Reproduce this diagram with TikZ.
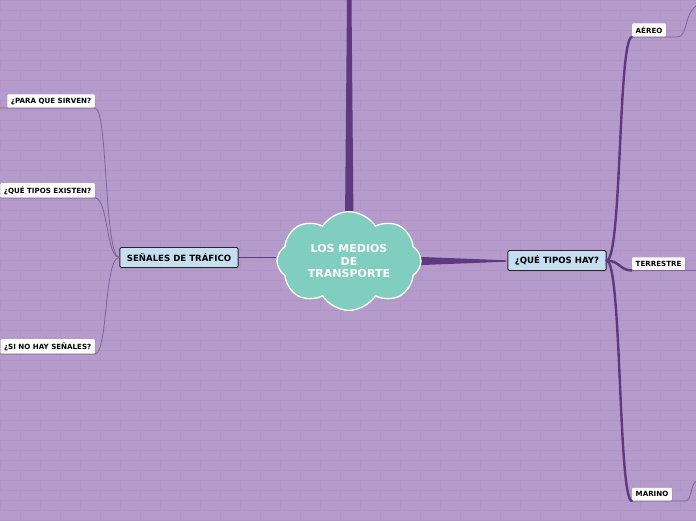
\documentclass[tikz,border=0pt]{standalone}
\usepackage{fontspec}
\setmainfont{DejaVu Sans}
\usetikzlibrary{shapes.symbols,shadows}
\definecolor{bg}{RGB}{181,155,203}
\definecolor{brick}{RGB}{175,149,198}
\definecolor{trunk}{RGB}{94,56,128}
\definecolor{thin}{RGB}{128,96,158}
\definecolor{teal}{RGB}{127,206,192}
\definecolor{topicblue}{RGB}{197,222,240}
\tikzset{
  topic/.style={draw=black!85, line width=0.9pt, fill=topicblue, rounded corners=1.5pt,
    font=\fontsize{8.6}{9}\selectfont\bfseries, inner xsep=7pt, minimum height=20pt,
    drop shadow={shadow xshift=1pt,shadow yshift=-1pt,opacity=0.35}},
  sub/.style={fill=white, rounded corners=1pt, font=\fontsize{7.1}{8}\selectfont\bfseries,
    inner xsep=3.5pt, minimum height=13pt, anchor=south west,
    drop shadow={shadow xshift=0.8pt,shadow yshift=-0.8pt,opacity=0.3}},
  branch/.style={draw=trunk, line width=2.4pt, line cap=round},
  twig/.style={draw=thin, line width=0.8pt},
  midline/.style={draw=trunk, line width=1.4pt}
}
\begin{document}
\begin{tikzpicture}[x=1pt,y=-1pt]
\useasboundingbox (0,0) rectangle (696,520);
\fill[bg] (0,0) rectangle (696,520);
% brick texture
\foreach \r in {0,...,52}{
  \draw[brick,line width=0.5pt] (0,\r*10) -- (696,\r*10);
  \pgfmathsetmacro{\off}{mod(\r,2)*20}
  \foreach \c in {0,40,...,720}{
    \draw[brick,line width=0.5pt] (\c+\off,\r*10) -- (\c+\off,\r*10+10);
  }
}
% trunk to top
\fill[trunk] (347,0) -- (351.5,0) -- (353.5,222) -- (345,222) -- cycle;
% right tapered connector
\fill[trunk] (410,256.5) -- (506,260.3) -- (506,261.7) -- (410,265.5) -- cycle;

\node[cloud, cloud puffs=8, cloud puff arc=115, aspect=1.6, draw=white, line width=1.3pt,
  fill=teal, minimum width=144pt, minimum height=96pt, text=white,
  font=\fontsize{11}{12.5}\selectfont\bfseries, align=center] (center) at (349,261)
  {LOS MEDIOS\\DE\\TRANSPORTE};

\node[topic] (sen) at (179,257.5) {SEÑALES DE TRÁFICO};
\node[topic] (tipos) at (557,260.5) {¿QUÉ TIPOS HAY?};

\draw[midline] (sen.east) -- (center.west |- sen.east);

% right sub-labels
\node[sub] (aereo) at (632,37) {AÉREO};
\node[sub] (terr) at (632,270.5) {TERRESTRE};
\node[sub] (marino) at (632,501) {MARINO};

\draw[branch] (tipos.east) .. controls (622,261) and (618,37) .. (aereo.south west);
\draw[branch] (tipos.east) .. controls (620,261) and (620,270.5) .. (terr.south west);
\draw[branch] (tipos.east) .. controls (622,261) and (618,501) .. (marino.south west);

\coordinate (a1) at (677,37);
\coordinate (a2) at (696,6);
\coordinate (t2) at (696,270.5);
\coordinate (m1) at (685,501);
\coordinate (m2) at (696,481);
\draw[twig] (aereo.south west) -- (a1) .. controls (688,37) and (684,14) .. (a2);
\draw[twig] (terr.south west) -- (t2);
\draw[twig] (marino.south west) -- (m1) .. controls (692,501) and (690,486) .. (m2);

% left sub-labels
\node[sub, anchor=south east] (para) at (95,108) {¿PARA QUE SIRVEN?};
\node[sub, anchor=south east] (exist) at (95,198) {¿QUÉ TIPOS EXISTEN?};
\node[sub, anchor=south east] (sino) at (95,354) {¿SI NO HAY SEÑALES?};

\coordinate (p0) at (0,108);
\coordinate (e0) at (0,198);
\coordinate (s0) at (0,354);
\draw[twig] (p0) -- (para.south east) .. controls (108,108) and (104,257) .. (sen.west);
\draw[twig] (e0) -- (exist.south east) .. controls (108,198) and (106,257) .. (sen.west);
\draw[twig] (s0) -- (sino.south east) .. controls (108,354) and (104,257) .. (sen.west);
\end{tikzpicture}
\end{document}
